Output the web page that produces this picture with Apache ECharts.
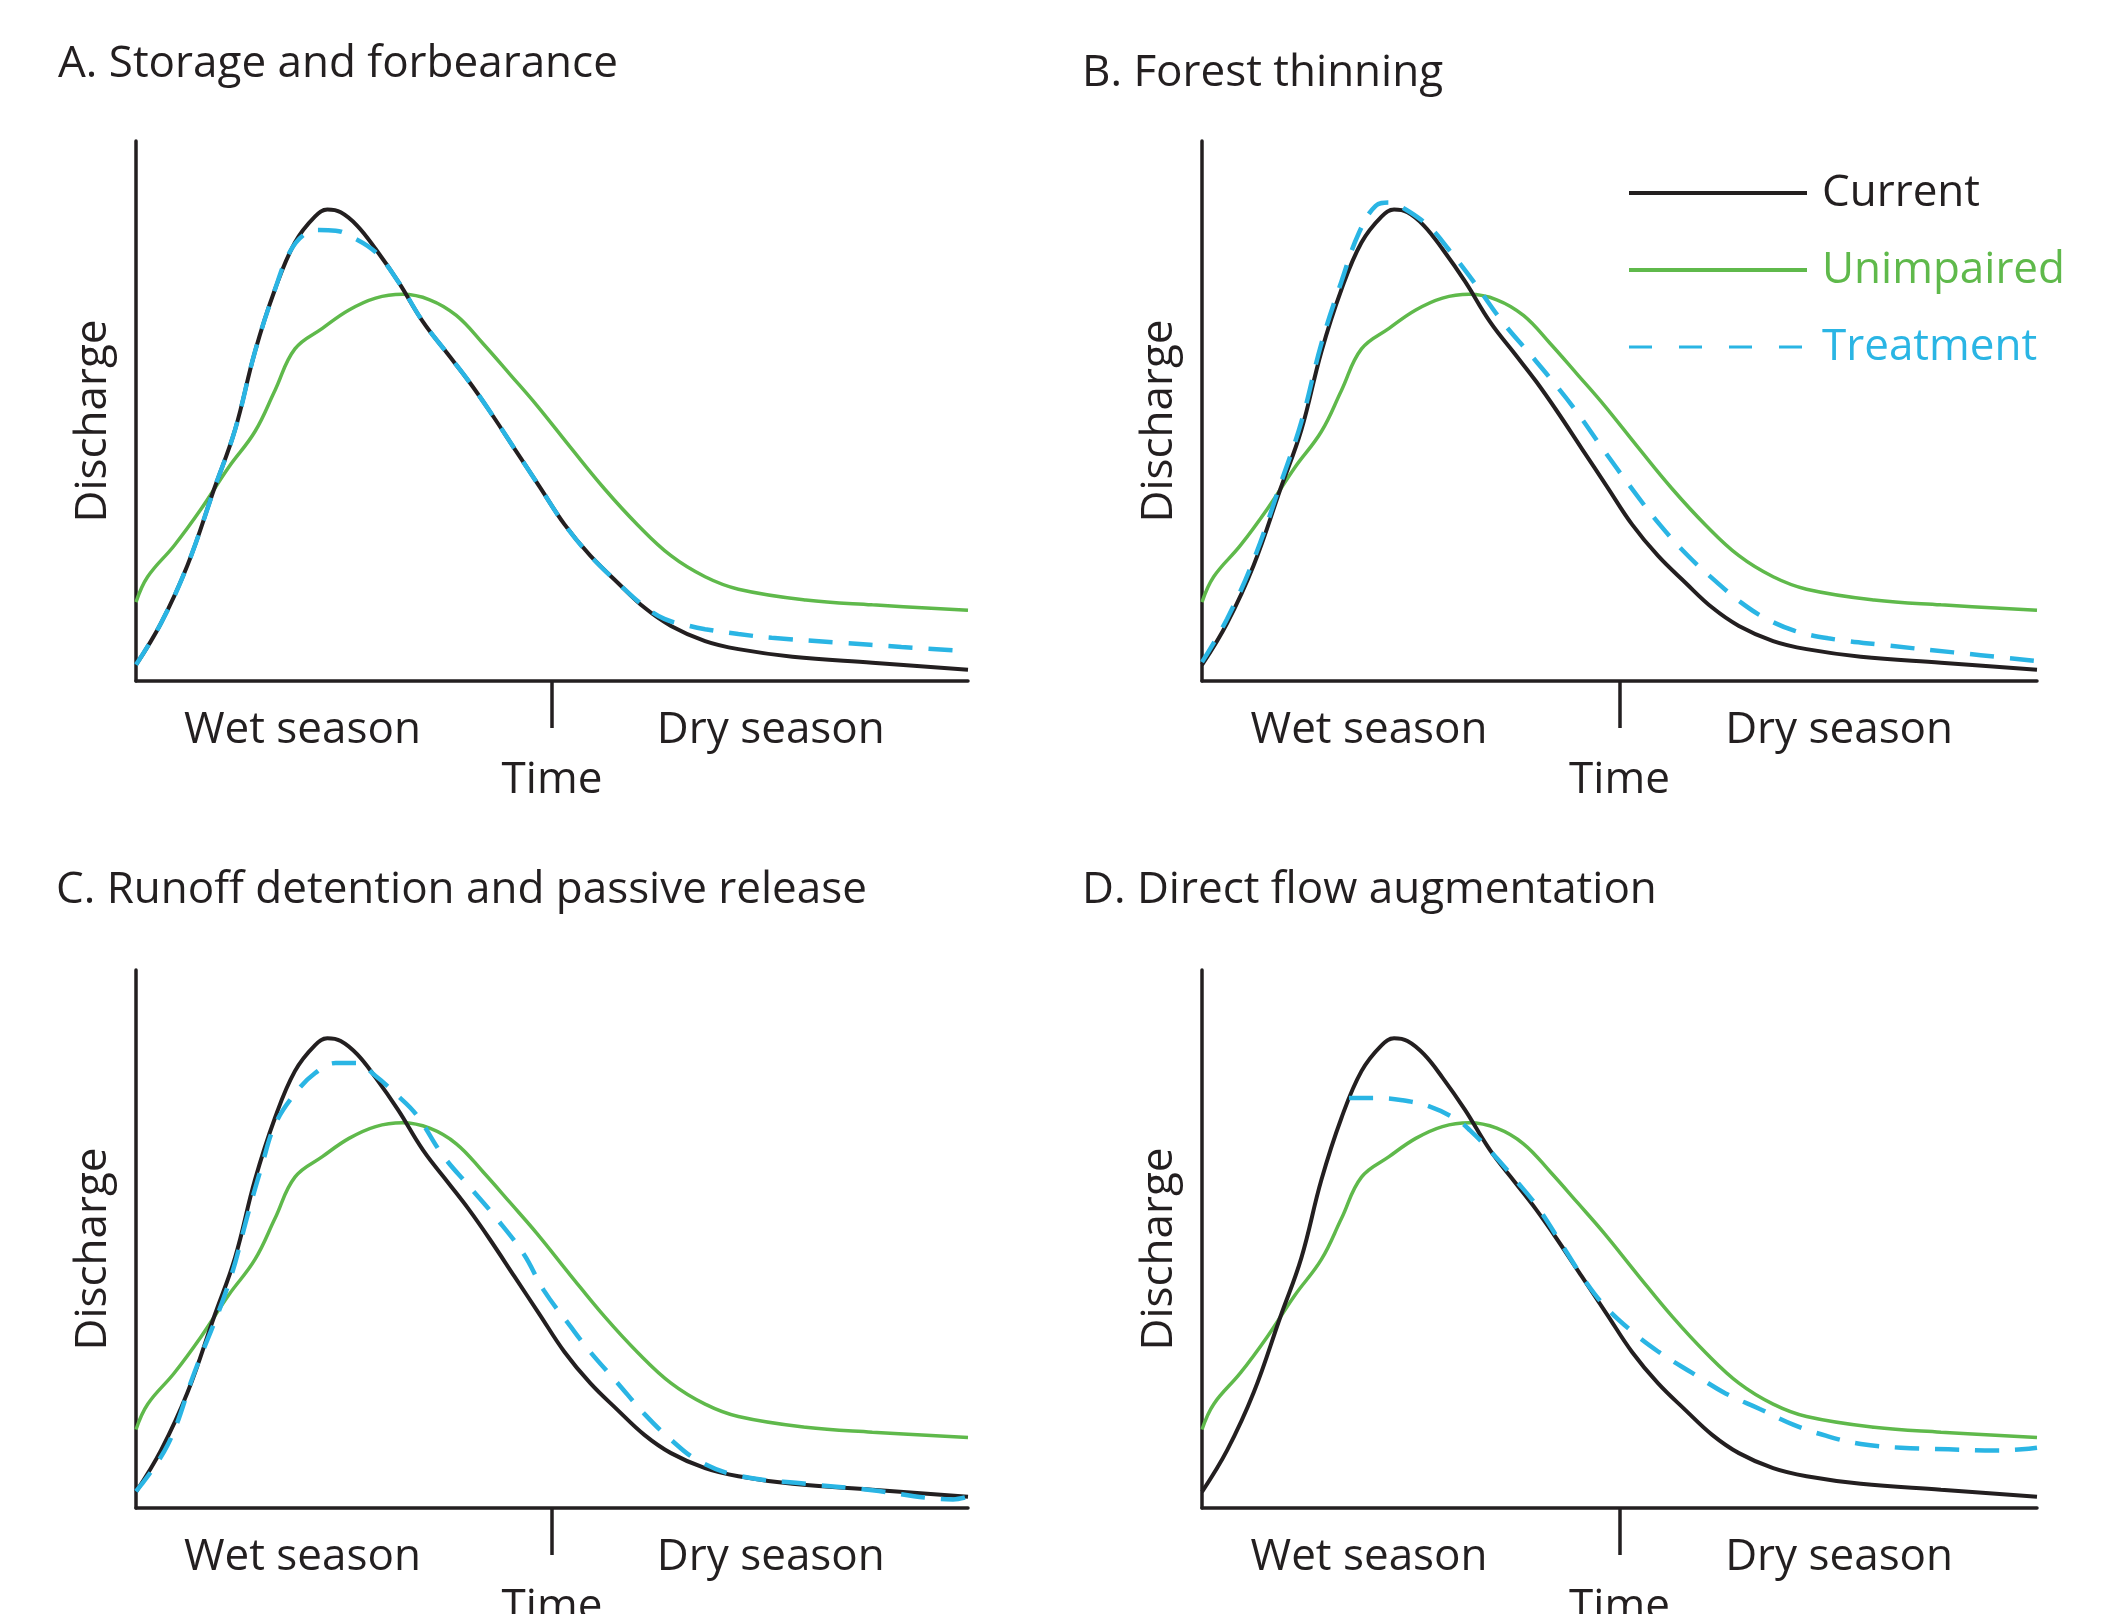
<!DOCTYPE html>
<html><head><meta charset="utf-8">
<script src="https://cdn.jsdelivr.net/npm/echarts@6/dist/echarts.min.js"></script>
<style>html,body{margin:0;padding:0;background:#fff}#c{width:2106px;height:1614px}</style>
</head><body><div id="c"></div>
<script>
// ---------- data (x: 0-100 across Time, y: 0-100 Discharge) ----------
const panelTitles = ['A. Storage and forbearance', 'B. Forest thinning', 'C. Runoff detention and passive release', 'D. Direct flow augmentation'];
const seasonLabels = ['Wet season', 'Dry season'];
const seasonPositions = [20, 76.3];
const seasonBoundary = [50];
const xAxisName = 'Time';
const yAxisName = 'Discharge';
const seriesNames = ['Current', 'Unimpaired', 'Treatment'];

const currentFlow = [[0,3.0],[3,10.7],[6.2,21.5],[9.4,35.6],[11.9,46.5],[14.3,61],[16.7,72.5],[19.1,81.2],[21.5,86],[23,87.3],[24.6,86.8],[26.6,84.3],[28.8,80],[31.5,74],[34.5,66.5],[37.5,60.5],[40,55.5],[42.5,50],[45.5,43],[48.5,36],[51.5,29],[54.6,23.2],[57.9,18.2],[61.1,13.6],[64.3,10.2],[68.4,7.4],[72.4,5.9],[78.9,4.5],[88.5,3.4],[100,2.1]];

const unimpairedFlow = [[0,14.6],[1.4,19.3],[4.6,25.1],[7.8,31.8],[11.1,39.5],[14.3,46.2],[16.7,53.8],[19.1,61.5],[22.4,65.3],[25.6,68.7],[28.8,70.9],[32,71.6],[35.3,70.6],[38.5,67.7],[41.7,62.5],[45,56.7],[48.2,51],[52.2,43.3],[56.3,35.6],[60.3,28.9],[64.3,23.2],[68.4,19.3],[72.4,17],[80.5,15],[88.5,14.1],[100,13.1]];

const treatmentA = [[0,3.0],[3,10.7],[6.2,21.5],[9.4,35.6],[11.9,46.5],[14.3,61],[16.7,72.5],[18.5,79.5],[20.3,82.8],[22,83.5],[24,83.4],[26,82.2],[28.8,79.4],[31.5,74],[34.5,66.5],[37.5,60.5],[40,55.5],[42.5,50],[45.5,43],[48.5,36],[51.5,29],[54.6,23.2],[57.9,18.2],[61.1,13.8],[63.5,11.5],[66,10.4],[68.4,9.6],[72.4,8.7],[76.4,8.0],[84.5,7.1],[92,6.3],[100,5.5]];

const treatmentB = [[0,3.5],[3,11.5],[6.2,22.5],[9.4,36.5],[11.9,48],[14.3,62.5],[16.7,74],[18.8,83],[20.8,88],[22.3,88.6],[24.2,87.5],[27.3,84],[29.5,80],[32.5,74],[36,66.5],[39.3,60.5],[42,55.5],[44.8,50],[48,43],[51.3,36],[54.8,29],[58.2,23.2],[61.5,18.5],[64.5,14.6],[67.5,11.6],[71,9.3],[75,7.9],[82,6.6],[90,5.3],[100,3.7]];

const treatmentC = [[0,3.1],[3.8,11.7],[7,25.1],[11.1,41.5],[13.5,54.9],[15.1,63.5],[16.7,71.2],[19.1,77],[21.5,80.8],[24,82.7],[26.4,82.7],[28.8,80.3],[31.2,77],[33.7,73.1],[36.9,65.5],[40.1,59.7],[43.3,53.9],[46.6,47.2],[49,40.5],[52.2,33.8],[54.6,29],[57.9,23.2],[61.1,17.5],[64.3,12.7],[67.6,8.8],[72.4,6],[80.5,4.5],[88.5,3.3],[95,1.9],[98.2,1.6],[100,2.1]];

const treatmentD = [[17.6,76.2],[20.8,76.2],[24,75.8],[27.3,74.6],[30.5,72.2],[32.1,70.2],[34.5,66.4],[37.7,60.7],[40.2,55.9],[43.4,48.2],[45.8,42.4],[48.2,37.6],[51.5,32.8],[54.7,29],[58.7,25.1],[62.7,21.3],[66.8,18.4],[70.8,15.5],[74.8,13.4],[78.9,11.9],[83.7,11.2],[89.4,10.9],[95,10.7],[98.2,10.9],[100,11.2]];

const treatments = [treatmentA, treatmentB, treatmentC, treatmentD];

// ---------- styling / layout ----------
const FONT = 'Open Sans';
const BLACK = '#231f20';
const GREEN = '#5fb94b';
const CYAN = '#2ab5e4';

const grids = [
  {left: 136, top: 141, width: 832, height: 540, outerBoundsMode: 'none', containLabel: false},
  {left: 1202, top: 141, width: 835, height: 540, outerBoundsMode: 'none', containLabel: false},
  {left: 136, top: 970, width: 832, height: 538, outerBoundsMode: 'none', containLabel: false},
  {left: 1202, top: 970, width: 835, height: 538, outerBoundsMode: 'none', containLabel: false}
];
const titlePos = [{left: 58, top: 39}, {left: 1082, top: 48}, {left: 56, top: 865}, {left: 1082, top: 865}];

const txt = {fontFamily: FONT, fontSize: 44, lineHeight: 50, color: BLACK};

const xAxes = [], yAxes = [], series = [], titles = [];
for (let i = 0; i < 4; i++) {
  titles.push({text: panelTitles[i], left: titlePos[i].left, top: titlePos[i].top, padding: 0,
    textStyle: Object.assign({fontWeight: 'normal'}, txt)});
  xAxes.push({
    gridIndex: i, type: 'value', min: 0, max: 100,
    axisLine: {show: true, onZero: false, lineStyle: {color: BLACK, width: 3.5}},
    axisTick: {show: true, customValues: seasonBoundary, length: 47, lineStyle: {color: BLACK, width: 3.5}},
    axisLabel: {show: true, customValues: seasonPositions, margin: 24,
      formatter: v => (v < seasonBoundary[0] ? seasonLabels[0] : seasonLabels[1]),
      fontFamily: FONT, fontSize: 44, lineHeight: 50, color: BLACK},
    splitLine: {show: false},
    name: xAxisName, nameLocation: 'middle', nameGap: 70,
    nameTextStyle: Object.assign({}, txt)
  });
  yAxes.push({
    gridIndex: i, type: 'value', min: 0, max: 100,
    axisLine: {show: true, onZero: false, lineStyle: {color: BLACK, width: 3.5}},
    axisTick: {show: false}, axisLabel: {show: false}, splitLine: {show: false},
    name: yAxisName, nameLocation: 'middle', nameGap: 18,
    nameTextStyle: Object.assign({padding: [0, 20, 0, 0]}, txt)
  });
  series.push({type: 'line', name: seriesNames[1], xAxisIndex: i, yAxisIndex: i, data: unimpairedFlow,
    symbol: 'none', smooth: 0.4, z: 2, lineStyle: {color: GREEN, width: 3.5}, itemStyle: {color: GREEN}});
  series.push({type: 'line', name: seriesNames[0], xAxisIndex: i, yAxisIndex: i, data: currentFlow,
    symbol: 'none', smooth: 0.4, z: 3, lineStyle: {color: BLACK, width: 4}, itemStyle: {color: BLACK}});
  series.push({type: 'line', name: seriesNames[2], xAxisIndex: i, yAxisIndex: i, data: treatments[i],
    symbol: 'none', smooth: 0.4, z: 4, lineStyle: {color: CYAN, width: 4.5, type: [24, 16]}, itemStyle: {color: CYAN}});
}

const chart = echarts.init(document.getElementById('c'), null, {renderer: 'canvas'});
chart.setOption({
  backgroundColor: '#ffffff',
  animation: false,
  title: titles,
  grid: grids,
  xAxis: xAxes,
  yAxis: yAxes,
  legend: {
    orient: 'vertical', left: 1627, top: 168, padding: 0,
    itemWidth: 178, itemHeight: 4, itemGap: 27,
    selectedMode: false,
    itemStyle: {opacity: 0, borderWidth: 0},
    lineStyle: {width: 4},
    textStyle: {fontFamily: FONT, fontSize: 44, lineHeight: 50, padding: [0, 0, 0, 10]},
    data: [
      {name: seriesNames[0], textStyle: {color: BLACK}},
      {name: seriesNames[1], textStyle: {color: GREEN}},
      {name: seriesNames[2], textStyle: {color: CYAN}, lineStyle: {width: 3, type: [23, 27]}}
    ]
  },
  series: series
});
</script>
</body></html>
